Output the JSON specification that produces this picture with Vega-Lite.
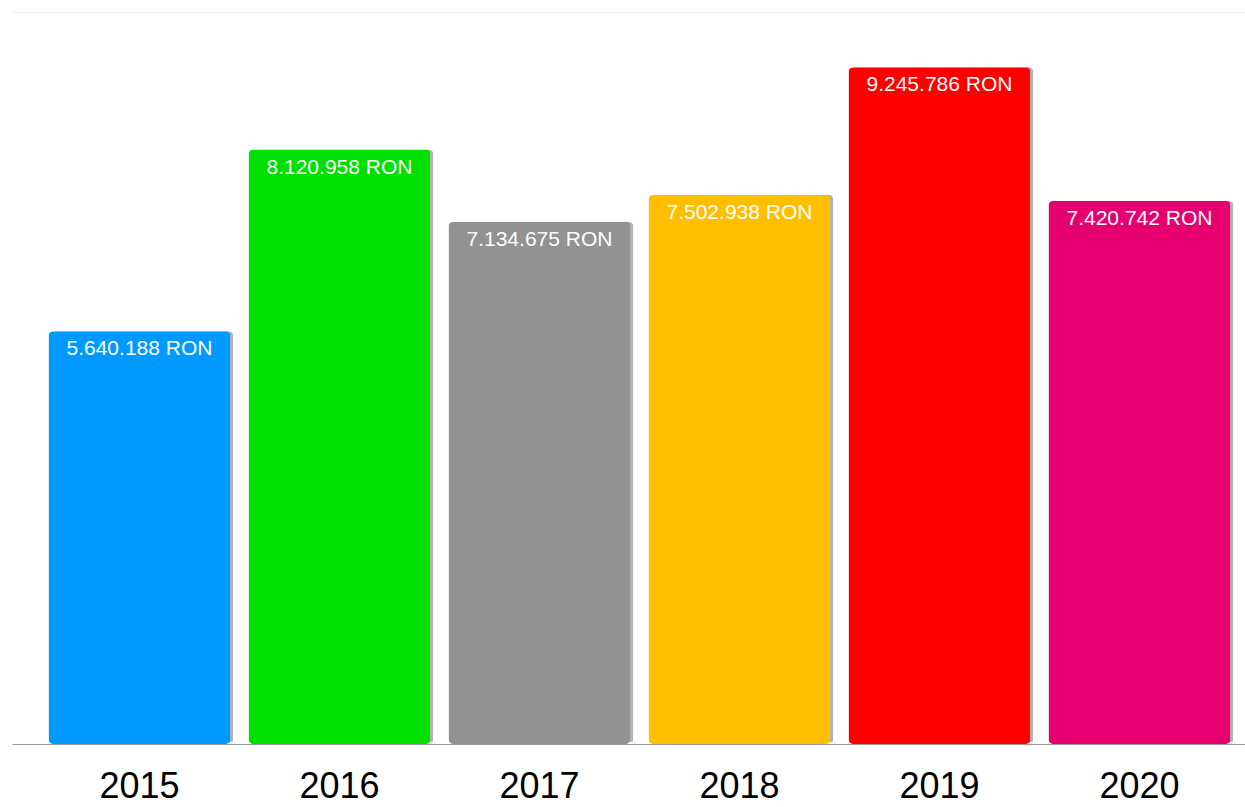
{
  "$schema": "https://vega.github.io/schema/vega-lite/v6.json",
  "width": 1233,
  "height": 732,
  "autosize": {"type": "none"},
  "padding": {"left": 12, "top": 12, "right": 0, "bottom": 63},
  "background": "white",
  "config": {
    "view": {"stroke": null},
    "locale": {"number": {"decimal": ",", "thousands": ".", "grouping": [3], "currency": ["", " RON"]}},
    "font": "Liberation Sans"
  },
  "data": {
    "values": [
      {"year": "2015", "value": 5640188, "color": "#0099FF"},
      {"year": "2016", "value": 8120958, "color": "#00E000"},
      {"year": "2017", "value": 7134675, "color": "#929292"},
      {"year": "2018", "value": 7502938, "color": "#FFBF00"},
      {"year": "2019", "value": 9245786, "color": "#FF0000"},
      {"year": "2020", "value": 7420742, "color": "#E6006F"}
    ]
  },
  "encoding": {
    "x": {
      "field": "year", "type": "nominal", "title": null,
      "scale": {"paddingInner": 0.09, "paddingOuter": 0.1275, "align": 0.715},
      "axis": {"labelAngle": 0, "labelFontSize": 36, "labelColor": "#000", "labelPadding": 25, "ticks": false, "domainColor": "#999", "domainWidth": 1}
    },
    "y": {
      "field": "value", "type": "quantitative", "title": null,
      "scale": {"domain": [0, 10000000], "nice": false},
      "axis": {"values": [10000000], "grid": true, "gridColor": "#ececec", "gridWidth": 1, "labels": false, "ticks": false, "domain": false}
    }
  },
  "layer": [
    {
      "mark": {"type": "bar", "cornerRadius": 5, "color": "#000", "opacity": 0.3, "xOffset": 3, "yOffset": -2},
      "encoding": {}
    },
    {
      "mark": {"type": "bar", "cornerRadius": 5},
      "encoding": {"color": {"field": "color", "type": "nominal", "scale": null, "legend": null}}
    },
    {
      "mark": {"type": "text", "baseline": "top", "dy": 7, "fontSize": 21, "color": "white"},
      "encoding": {"text": {"field": "value", "type": "quantitative", "format": "$,.0f"}}
    }
  ]
}
